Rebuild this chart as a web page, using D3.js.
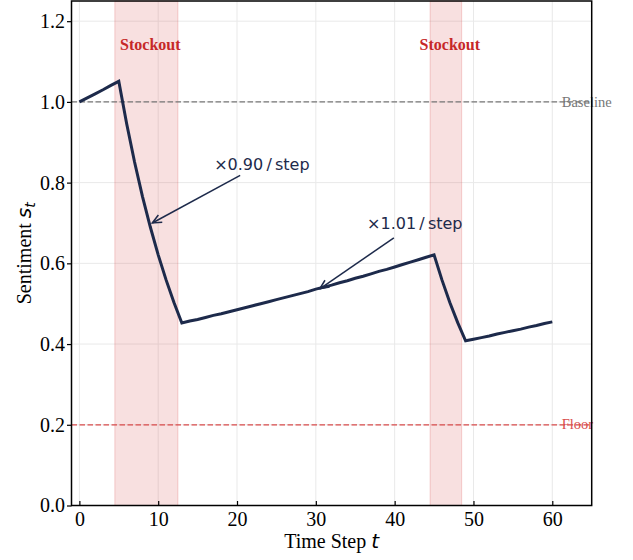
<!DOCTYPE html>
<html>
<head>
<meta charset="utf-8">
<script src="https://cdn.jsdelivr.net/npm/d3@7"></script>
<style>
  html, body { margin: 0; padding: 0; background: #fff; }
  svg { display: block; }
  .tick text { font-family: "Liberation Serif", "Times New Roman", serif; font-size: 20px; fill: #000; }
</style>
</head>
<body>
<svg id="chart" width="633" height="560"></svg>
<script>
// Sentiment per time step (t = 0..60)
const sentiment = [
  1.000, 1.010, 1.020, 1.030, 1.041, 1.051, 0.946, 0.851, 0.766, 0.690,
  0.621, 0.559, 0.503, 0.452, 0.457, 0.461, 0.466, 0.471, 0.475, 0.480,
  0.485, 0.490, 0.495, 0.500, 0.505, 0.510, 0.515, 0.520, 0.525, 0.530,
  0.536, 0.541, 0.546, 0.552, 0.557, 0.563, 0.568, 0.574, 0.580, 0.585,
  0.591, 0.597, 0.603, 0.609, 0.615, 0.621, 0.559, 0.503, 0.453, 0.408,
  0.412, 0.416, 0.420, 0.425, 0.429, 0.433, 0.437, 0.442, 0.446, 0.451,
  0.455
];
const timeSteps = sentiment.map((d, i) => i);

// Stockout periods [first step, step after recovery]
const stockoutStarts = [5, 45];
const stockoutEnds = [13, 49];

const xTicks = [0, 10, 20, 30, 40, 50, 60];
const yTicks = [0.0, 0.2, 0.4, 0.6, 0.8, 1.0, 1.2];

const baselineLevel = 1.0;
const floorLevel = 0.2;

// Annotations: label, text anchor (t, s), arrow start (t, s), arrow tip (t, s)
const annoLabels = ['\u00d70.90\u2009/\u2009step', '\u00d71.01\u2009/\u2009step'];
const annoText = [[17.1, 0.832], [36.5, 0.684]];
const annoFrom = [[20.4, 0.818], [39.9, 0.663]];
const annoTip = [[9.25, 0.70], [30.5, 0.537]];

const navy = '#1d2a4b';
const red = '#c62828';

const svg = d3.select('#chart');
const margin = {left: 71.5, right: 41.3, top: 1, bottom: 54.5};
const W = 633, H = 560;

const x = d3.scaleLinear().domain([-1, 65]).range([margin.left, W - margin.right]);
const y = d3.scaleLinear().domain([0, 1.25]).range([H - margin.bottom, margin.top]);

// Grid
const grid = svg.append('g').attr('class', 'grid');
grid.selectAll('.gx').data(xTicks).enter().append('line')
  .attr('x1', (d) => x(d)).attr('x2', (d) => x(d))
  .attr('y1', y.range()[0]).attr('y2', y.range()[1])
  .attr('stroke', '#e9e9e9').attr('stroke-width', 1);
grid.selectAll('.gy').data(yTicks).enter().append('line')
  .attr('y1', (d) => y(d)).attr('y2', (d) => y(d))
  .attr('x1', x.range()[0]).attr('x2', x.range()[1])
  .attr('stroke', '#e9e9e9').attr('stroke-width', 1);

// Stockout shading
const bands = stockoutStarts.map((s, i) => ({start: s, end: stockoutEnds[i]}));
svg.append('g').selectAll('rect').data(bands).enter().append('rect')
  .attr('x', (d) => x(d.start - 0.5))
  .attr('width', (d) => x(d.end - 0.5) - x(d.start - 0.5))
  .attr('y', y(1.25)).attr('height', y(0) - y(1.25))
  .attr('fill', 'rgba(214, 60, 60, 0.16)')
  .attr('stroke', 'rgba(214, 60, 60, 0.22)').attr('stroke-width', 1);

svg.append('g').selectAll('text').data(bands).enter().append('text')
  .attr('x', (d) => x((d.start + d.end) / 2))
  .attr('y', 50)
  .attr('text-anchor', 'middle')
  .attr('font-family', '"Liberation Serif", serif')
  .attr('font-weight', 'bold')
  .attr('font-size', 16)
  .attr('fill', red)
  .text('Stockout');

// Reference lines
const refs = [
  {v: baselineLevel, color: '#777777', label: 'Baseline'},
  {v: floorLevel, color: '#d94c4c', label: 'Floor'},
];
const refG = svg.append('g');
refG.selectAll('line').data(refs).enter().append('line')
  .attr('x1', x.range()[0]).attr('x2', x.range()[1])
  .attr('y1', (d) => y(d.v)).attr('y2', (d) => y(d.v))
  .attr('stroke', (d) => d.color).attr('stroke-width', 1.3)
  .attr('stroke-dasharray', '5.5,2.5');
refG.selectAll('text').data(refs).enter().append('text')
  .attr('x', x(61.2)).attr('y', (d) => y(d.v))
  .attr('dy', '0.32em')
  .attr('font-family', '"Liberation Serif", serif')
  .attr('font-size', 14.5)
  .attr('fill', (d) => d.color)
  .text((d) => d.label);

// Sentiment line
const line = d3.line().x((d, i) => x(timeSteps[i])).y((d) => y(d));
svg.append('path').datum(sentiment)
  .attr('d', line)
  .attr('fill', 'none')
  .attr('stroke', navy)
  .attr('stroke-width', 3)
  .attr('stroke-linejoin', 'miter');

// Annotations
const annoG = svg.append('g');
annoLabels.forEach((label, i) => {
  const x0 = x(annoFrom[i][0]), y0 = y(annoFrom[i][1]);
  const x1 = x(annoTip[i][0]), y1 = y(annoTip[i][1]);
  annoG.append('line')
    .attr('x1', x0).attr('y1', y0).attr('x2', x1).attr('y2', y1)
    .attr('stroke', navy).attr('stroke-width', 1.5);
  const ang = Math.atan2(y0 - y1, x0 - x1);
  const hl = 10, hw = 0.42;
  const pts = [
    [x1 + hl * Math.cos(ang + hw), y1 + hl * Math.sin(ang + hw)],
    [x1, y1],
    [x1 + hl * Math.cos(ang - hw), y1 + hl * Math.sin(ang - hw)],
  ];
  annoG.append('path')
    .attr('d', d3.line()(pts))
    .attr('fill', 'none').attr('stroke', navy).attr('stroke-width', 1.5);
  annoG.append('text')
    .attr('x', x(annoText[i][0])).attr('y', y(annoText[i][1]))
    .attr('font-family', '"DejaVu Sans", sans-serif')
    .attr('font-size', 16)
    .attr('fill', navy)
    .text(label);
});

// Axes
const xAxis = d3.axisBottom(x).tickValues(xTicks).tickFormat(d3.format('d'))
  .tickSizeInner(-4.5).tickSizeOuter(0);
const gx = svg.append('g').attr('transform', `translate(0,${y(0)})`).call(xAxis);
gx.select('.domain').remove();
gx.selectAll('.tick line').attr('stroke', '#000').attr('stroke-width', 1.2);
gx.selectAll('.tick text').attr('y', 20.5).attr('dy', 0);

const yAxis = d3.axisLeft(y).tickValues(yTicks).tickFormat(d3.format('.1f'))
  .tickSizeInner(4.5).tickSizeOuter(0).tickPadding(2);
const gy = svg.append('g').attr('transform', `translate(${x.range()[0]},0)`).call(yAxis);
gy.select('.domain').remove();
gy.selectAll('.tick line').attr('stroke', '#000').attr('stroke-width', 1.2);

// Frame
svg.append('rect')
  .attr('x', x.range()[0]).attr('y', y.range()[1])
  .attr('width', x.range()[1] - x.range()[0])
  .attr('height', y.range()[0] - y.range()[1])
  .attr('fill', 'none').attr('stroke', '#000').attr('stroke-width', 1.5);

// Axis labels
const xl = svg.append('text')
  .attr('x', (x.range()[0] + x.range()[1]) / 2).attr('y', 548)
  .attr('text-anchor', 'middle')
  .attr('font-family', '"Liberation Serif", serif').attr('font-size', 20);
xl.append('tspan').text('Time Step ');
xl.append('tspan').attr('font-family', '"DejaVu Sans", sans-serif').attr('font-style', 'italic').text('t');

const yl = svg.append('text')
  .attr('transform', `translate(31,${(y.range()[0] + y.range()[1]) / 2}) rotate(-90)`)
  .attr('text-anchor', 'middle')
  .attr('font-family', '"Liberation Serif", serif').attr('font-size', 20);
yl.append('tspan').text('Sentiment ');
yl.append('tspan').attr('font-family', '"DejaVu Sans", sans-serif').attr('font-style', 'italic').text('s');
yl.append('tspan').attr('font-family', '"DejaVu Sans", sans-serif').attr('font-style', 'italic')
  .attr('font-size', 14).attr('dy', 4).text('t');
</script>
</body>
</html>
